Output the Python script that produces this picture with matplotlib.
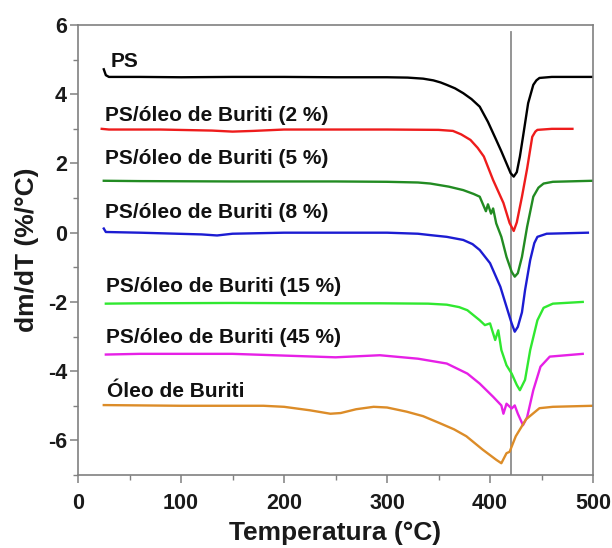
import matplotlib
matplotlib.use('Agg')
import matplotlib.pyplot as plt
from matplotlib.ticker import MultipleLocator

plt.rcParams['font.family'] = ['Liberation Sans', 'DejaVu Sans']
plt.rcParams['font.weight'] = 'bold'
plt.rcParams['axes.unicode_minus'] = False

# DTG curves (temperature in C, dm/dT in %/C)
ps_T = [25, 27, 30, 60, 100, 150, 200, 250, 300, 320, 335, 345, 352, 358, 366, 374,
        382, 390, 398, 406, 411, 416, 420, 423, 426, 429, 432, 437, 442, 445, 448,
        460, 500]
ps_v = [4.72, 4.55, 4.50, 4.50, 4.49, 4.50, 4.50, 4.49, 4.49, 4.48, 4.45, 4.40, 4.34,
        4.27, 4.17, 4.03, 3.86, 3.64, 3.2, 2.68, 2.35, 2.0, 1.72, 1.62, 1.75, 2.2,
        2.77, 3.74, 4.27, 4.40, 4.47, 4.5, 4.5]

b2_T = [23, 30, 80, 130, 150, 170, 200, 300, 350, 364, 372, 381, 388, 394, 403, 413,
        419, 423, 426, 431, 436, 441, 444, 446, 460, 480]
b2_v = [3.0, 2.98, 2.98, 2.95, 2.92, 2.94, 2.98, 2.98, 2.97, 2.94, 2.84, 2.68, 2.45,
        2.2, 1.52, 0.86, 0.28, 0.05, 0.3, 1.04, 1.85, 2.77, 2.92, 2.97, 3.0, 3.0]

b5_T = [25, 60, 150, 250, 300, 330, 342, 360, 374, 384, 390, 396, 398, 401, 403, 406,
        411, 416, 421, 424, 427, 431, 436, 442, 447, 452, 461, 500]
b5_v = [1.5, 1.49, 1.48, 1.48, 1.47, 1.45, 1.42, 1.33, 1.23, 1.12, 1.04, 0.62, 0.82,
        0.55, 0.70, 0.27, -0.12, -0.70, -1.13, -1.27, -1.17, -0.70, 0.17, 1.04, 1.30,
        1.42, 1.47, 1.5]

b8_T = [25, 27, 60, 120, 135, 150, 200, 300, 330, 342, 358, 374, 383, 390, 400, 410,
        416, 421, 424, 427, 431, 434, 439, 443, 446, 455, 495]
b8_v = [0.12, 0.02, 0.0, -0.05, -0.08, -0.03, 0.0, 0.0, -0.03, -0.07, -0.12, -0.21,
        -0.33, -0.5, -0.88, -1.56, -2.14, -2.62, -2.86, -2.72, -2.3, -1.66, -0.79,
        -0.30, -0.12, -0.03, 0.0]

b15_T = [27, 60, 150, 250, 293, 340, 358, 370, 378, 390, 395, 400, 405, 408, 411, 416,
         421, 426, 429, 434, 439, 446, 452, 461, 490]
b15_v = [-2.05, -2.04, -2.03, -2.04, -2.04, -2.05, -2.08, -2.15, -2.24, -2.53, -2.67,
         -2.62, -3.1, -2.82, -3.39, -3.83, -4.07, -4.4, -4.55, -4.25, -3.39, -2.53,
         -2.17, -2.05, -2.0]

b45_T = [27, 60, 150, 200, 250, 293, 330, 358, 378, 390, 403, 411, 413, 416, 421, 424,
         427, 432, 436, 442, 449, 458, 490]
b45_v = [-3.52, -3.5, -3.5, -3.55, -3.6, -3.54, -3.64, -3.78, -4.07, -4.36, -4.74,
         -4.99, -5.23, -4.94, -5.08, -4.99, -5.23, -5.56, -5.33, -4.55, -3.87, -3.58,
         -3.5]

oil_T = [25, 100, 180, 200, 225, 245, 255, 270, 287, 300, 319, 335, 351, 365, 377, 393,
         406, 411, 416, 419, 425, 435, 448, 461, 500]
oil_v = [-4.98, -5.0, -5.0, -5.03, -5.13, -5.23, -5.21, -5.1, -5.03, -5.05, -5.17,
         -5.3, -5.5, -5.68, -5.88, -6.27, -6.56, -6.66, -6.37, -6.33, -5.88, -5.39,
         -5.07, -5.03, -5.0]

names = ['PS', 'PS/óleo de Buriti (2 %)', 'PS/óleo de Buriti (5 %)',
         'PS/óleo de Buriti (8 %)', 'PS/óleo de Buriti (15 %)',
         'PS/óleo de Buriti (45 %)', 'Óleo de Buriti']
label_T = [31.5, 26, 26, 26.5, 27.5, 27.5, 28.5]
label_v = [4.79, 3.23, 1.98, 0.41, -1.71, -3.2, -4.74]

t_peak = 420

series = [(ps_T, ps_v, '#000000'),
          (b2_T, b2_v, '#ee1c1c'),
          (b5_T, b5_v, '#228b22'),
          (b8_T, b8_v, '#1c1cd2'),
          (b15_T, b15_v, '#30e830'),
          (b45_T, b45_v, '#e620e6'),
          (oil_T, oil_v, '#dc8c28')]

fig = plt.figure(figsize=(6.12, 5.48), dpi=100)
ax = fig.add_axes([0.1275, 0.1332, 0.8415, 0.8212])

ax.axvline(t_peak, ymax=(5.8 + 7) / 13., color='#8c8c8c', lw=1.3, zorder=1)

for T, v, c in series:
    ax.plot(T, v, color=c, lw=1.7, zorder=2)

for name, x, y in zip(names, label_T, label_v):
    ax.text(x, y, name, fontsize=15, fontweight='bold', color='#111111',
            ha='left', va='baseline')

ax.set_xlim(0, 500)
ax.set_ylim(-7, 6)
ax.xaxis.set_major_locator(MultipleLocator(100))
ax.xaxis.set_minor_locator(MultipleLocator(50))
ax.yaxis.set_major_locator(MultipleLocator(2))
ax.yaxis.set_minor_locator(MultipleLocator(1))

for sp in ax.spines.values():
    sp.set_color('#808080')
    sp.set_linewidth(1.2)
ax.tick_params(which='major', direction='out', length=6, width=1.1, color='#808080',
               labelsize=15.5, labelcolor='#1a1a1a')
ax.tick_params(axis='x', which='major', pad=7)
ax.tick_params(axis='y', which='major', pad=2)
ax.tick_params(which='minor', direction='out', length=3.5, width=1.0, color='#808080')

ax.set_xlabel('Temperatura (°C)', fontsize=19, fontweight='bold', color='#1a1a1a',
              labelpad=5)
ax.set_ylabel('dm/dT (%/°C)', fontsize=19, fontweight='bold', color='#1a1a1a',
              labelpad=6)

plt.savefig('out.png', dpi=100)
